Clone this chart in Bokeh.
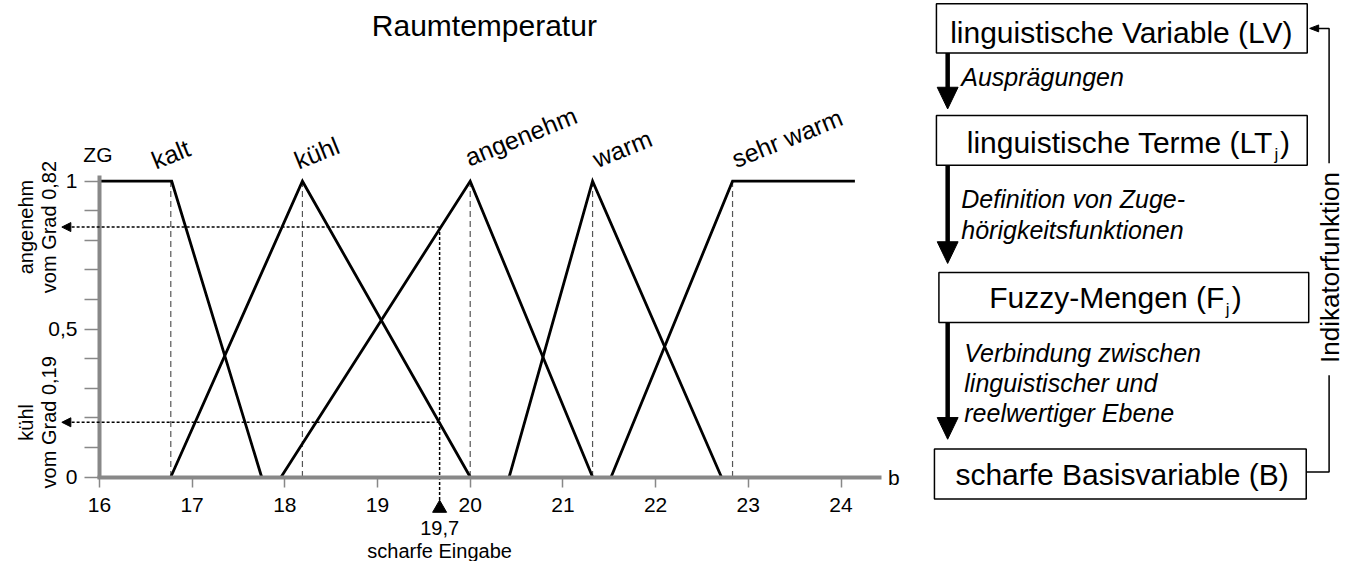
import math
from bokeh.plotting import figure
from bokeh.models import Range1d, LinearAxis, FixedTicker, Arrow, NormalHead, ColumnDataSource
from bokeh.core.properties import value
from bokeh.embed import file_html
from bokeh.resources import INLINE

# ------------------------------------------------------------------ data
title_text = "Raumtemperatur"
x_ticks = [16, 17, 18, 19, 20, 21, 22, 23, 24]
y_ticks = [0, 0.5, 1]
y_tick_labels = ["0", "0,5", "1"]
y_minor_ticks = [0.1, 0.2, 0.3, 0.4, 0.6, 0.7, 0.8, 0.9]
x_axis_name = "b"
y_axis_name = "ZG"

terms = ["kalt", "kühl", "angenehm", "warm", "sehr warm"]
kalt_x = [16.0, 16.78, 17.75]
kalt_y = [1.0, 1.0, 0.0]
kuehl_x = [16.77, 18.19, 20.0]
kuehl_y = [0.0, 1.0, 0.0]
angenehm_x = [17.96, 20.0, 21.32]
angenehm_y = [0.0, 1.0, 0.0]
warm_x = [20.42, 21.32, 22.71]
warm_y = [0.0, 1.0, 0.0]
sehr_warm_x = [21.52, 22.83, 24.15]
sehr_warm_y = [0.0, 1.0, 1.0]
core_points = [16.77, 18.19, 20.0, 21.32, 22.83]
term_label_t = [16.61, 18.15, 19.99, 21.37, 22.87]
term_label_g = [1.04, 1.04, 1.05, 1.045, 1.045]

crisp_input = 19.67
crisp_input_text = ["19,7", "scharfe Eingabe"]
degree_values = [0.845, 0.185]
degree_texts = ["angenehm\nvom Grad 0,82", "kühl\nvom Grad 0,19"]

flow_box_texts = ["linguistische Variable (LV)", "linguistische Terme (LT",
                  "Fuzzy-Mengen (F", "scharfe Basisvariable (B)"]
flow_box_subscripts = ["j", "j"]
flow_step_lines = ["Ausprägungen", "Definition von Zuge-", "hörigkeitsfunktionen",
                   "Verbindung zwischen", "linguistischer und", "reelwertiger Ebene"]
feedback_text = "Indikatorfunktion"

# ------------------------------------------------------------------ layout
W, H = 1345, 561
REF_X0, REF_X1 = 0.0, 1353.0
REF_Y_TOP, REF_Y_BOT = 0.0, 569.0
T_REF_PX, T_PX_PER_UNIT = 99.5, 93.25
G_REF_PX, G_PX_PER_UNIT = 483.3, 300.0
FONT = "Liberation Sans"
AXIS_GRAY = "#888888"
MID = 0.35  # distance from alphabetic baseline to text middle, in em


def t_at(px):
    return 16 + (px - T_REF_PX) / T_PX_PER_UNIT


def g_at(py):
    return (G_REF_PX - py) / G_PX_PER_UNIT


def mid(baseline, size):
    return baseline - MID * size


p = figure(width=W, height=H, x_range=Range1d(REF_X0, REF_X1),
           y_range=Range1d(REF_Y_BOT, REF_Y_TOP),
           x_axis_type=None, y_axis_type=None, toolbar_location=None,
           output_backend="svg", min_border=0, outline_line_color=None, title=None)
p.background_fill_color = "white"
p.border_fill_color = "white"
p.extra_x_ranges = {"t": Range1d(t_at(REF_X0), t_at(REF_X1))}
p.extra_y_ranges = {"g": Range1d(g_at(REF_Y_BOT), g_at(REF_Y_TOP))}
TG = dict(x_range_name="t", y_range_name="g")

# axes
xaxis = LinearAxis(fixed_location=0, bounds=(t_at(97.5), 24.44),
                   ticker=FixedTicker(ticks=x_ticks, minor_ticks=[]), **TG)
yaxis = LinearAxis(fixed_location=16, bounds=(g_at(485.3), 1.02),
                   ticker=FixedTicker(ticks=y_ticks, minor_ticks=y_minor_ticks), **TG)
yaxis.major_label_overrides = {k: v for k, v in zip(y_ticks, y_tick_labels)}
for ax, tick_out, standoff in ((xaxis, 10, 11), (yaxis, 15, 7)):
    ax.axis_line_color = AXIS_GRAY
    ax.axis_line_width = 4
    ax.major_tick_line_color = AXIS_GRAY
    ax.major_tick_line_width = 1.5
    ax.major_tick_in = 0
    ax.major_tick_out = tick_out
    ax.minor_tick_in = 0
    ax.minor_tick_out = tick_out
    ax.minor_tick_line_color = AXIS_GRAY
    ax.minor_tick_line_width = 1.5
    ax.major_label_text_font = FONT
    ax.major_label_text_font_size = "21px"
    ax.major_label_text_color = "black"
    ax.major_label_standoff = standoff
    ax.major_label_orientation = "horizontal"
p.add_layout(xaxis, "below")
p.add_layout(yaxis, "left")

# dashed guides at the cores
p.segment(x0=core_points, y0=[0] * len(core_points), x1=core_points, y1=[1] * len(core_points),
          line_color="#555555", line_width=1.2, line_dash="6 4", **TG)

# membership functions
for xs, ys in ((kalt_x, kalt_y), (kuehl_x, kuehl_y), (angenehm_x, angenehm_y),
               (warm_x, warm_y), (sehr_warm_x, sehr_warm_y)):
    p.line(xs, ys, line_color="black", line_width=2.8, line_join="miter", **TG)

# crisp input and degrees
p.segment(x0=[crisp_input], y0=[degree_values[0]], x1=[crisp_input], y1=[g_at(508)],
          line_color="black", line_width=1.5, line_dash="3 2", **TG)
p.scatter(x=[crisp_input], y=[g_at(515)], marker="triangle", size=14,
          fill_color="black", line_color="black", **TG)
arrow_src = ColumnDataSource(dict(x0=[crisp_input] * len(degree_values), y0=degree_values,
                                  x1=[t_at(61.7)] * len(degree_values), y1=degree_values))
p.add_layout(Arrow(end=NormalHead(size=9, fill_color="black", line_color="black", line_width=1),
                   x_start="x0", y_start="y0", x_end="x1", y_end="y1", source=arrow_src,
                   line_color="black", line_width=1.5, line_dash="3 2", **TG))

# texts of the chart (all anchored at their middle)
p.text(x=[486.7], y=[mid(36, 30)], text=[title_text], text_font=value(FONT),
       text_font_size="30px", text_align="center", text_baseline="middle", text_color="black")

ang = math.radians(22)
lab_size = 25
off = MID * lab_size
term_mid_t = [t - off * math.sin(ang) / T_PX_PER_UNIT for t in term_label_t]
term_mid_g = [g + off * math.cos(ang) / G_PX_PER_UNIT for g in term_label_g]
p.text(x=term_mid_t, y=term_mid_g, text=terms, angle=22, angle_units="deg",
       text_font=value(FONT), text_font_size=f"{lab_size}px", text_align="left",
       text_baseline="middle", text_color="black", **TG)
p.text(x=[t_at(98)], y=[g_at(mid(163.3, 21))], text=[y_axis_name], text_font=value(FONT),
       text_font_size="21px", text_align="center", text_baseline="middle", **TG)
p.text(x=[t_at(892.7)], y=[g_at(mid(490.7, 21))], text=[x_axis_name], text_font=value(FONT),
       text_font_size="21px", text_align="left", text_baseline="middle", **TG)
p.text(x=[t_at(37.5)] * len(degree_values), y=degree_values, text=degree_texts,
       angle=90, angle_units="deg", text_font=value(FONT), text_font_size="20px",
       text_align="center", text_baseline="middle", text_line_height=1.05, **TG)
p.text(x=[crisp_input] * 2, y=[g_at(mid(541.7, 20)), g_at(mid(565, 20))], text=crisp_input_text,
       text_font=value(FONT), text_font_size="20px", text_align="center",
       text_baseline="middle", **TG)

# ------------------------------------------------------------------ flow diagram
box_left = [941.5, 941.5, 944.0, 939.5]
box_right = [1314.5, 1314.5, 1316.0, 1313.5]
box_top = [3.3, 116.7, 276.0, 455.0]
box_bottom = [53.3, 167.0, 326.7, 505.7]
p.quad(left=box_left, right=box_right, top=box_top, bottom=box_bottom,
       fill_color="white", line_color="black", line_width=1.5)

box_font = dict(text_font=value(FONT), text_font_size="30px", text_color="black",
                text_baseline="middle")
p.text(x=[1127.5, 1128.3], y=[mid(43.3, 30), mid(491.7, 30)],
       text=[flow_box_texts[0], flow_box_texts[3]], text_align="center", **box_font)
p.text(x=[1280.0, 1231.0], y=[mid(154.5, 30), mid(311.7, 30)],
       text=[flow_box_texts[1], flow_box_texts[2]], text_align="right", **box_font)
p.text(x=[1281.5, 1232.5], y=[mid(162.0, 17), mid(319.2, 17)], text=flow_box_subscripts,
       text_font=value(FONT), text_font_size="17px", text_align="left",
       text_baseline="middle")
p.text(x=[1287.0, 1238.5], y=[mid(154.5, 30), mid(311.7, 30)], text=[")", ")"],
       text_align="left", **box_font)

arrow_x = 952.8
arrow_from = [53.3, 167.0, 326.7]
arrow_tip = [110.0, 266.7, 445.0]
head_len, head_w = 22.0, 21.0
p.segment(x0=[arrow_x] * 3, y0=arrow_from, x1=[arrow_x] * 3,
          y1=[t - head_len + 1 for t in arrow_tip], line_color="black", line_width=4.5)
p.patches(xs=[[arrow_x - head_w / 2, arrow_x + head_w / 2, arrow_x] for _ in arrow_tip],
          ys=[[t - head_len, t - head_len, t] for t in arrow_tip],
          fill_color="black", line_color="black", line_width=1)

step_base = [86.7, 210.0, 241.5, 366.7, 397.0, 427.5]
p.text(x=[966.5, 966.5, 966.5, 969.5, 969.5, 969.5],
       y=[mid(b, 25) for b in step_base], text=flow_step_lines,
       text_font=value(FONT), text_font_size="25px", text_font_style="italic",
       text_align="left", text_baseline="middle", text_color="black")

# feedback line (Indikatorfunktion)
fb_x = 1336.5
p.line(x=[1313.5, fb_x, fb_x], y=[478.3, 478.3, 380.0], line_color="black", line_width=1.5)
p.line(x=[fb_x, fb_x, 1325.0], y=[165.0, 28.3, 28.3], line_color="black", line_width=1.5)
p.patches(xs=[[1317.0, 1326.0, 1326.0]], ys=[[28.3, 24.8, 31.8]],
          fill_color="black", line_color="black", line_width=1)
p.text(x=[1337.0], y=[270.8], text=[feedback_text], angle=90, angle_units="deg",
       text_font=value(FONT), text_font_size="26px", text_align="center",
       text_baseline="middle", text_color="black")

open("out.html", "w").write(file_html(p, INLINE))
